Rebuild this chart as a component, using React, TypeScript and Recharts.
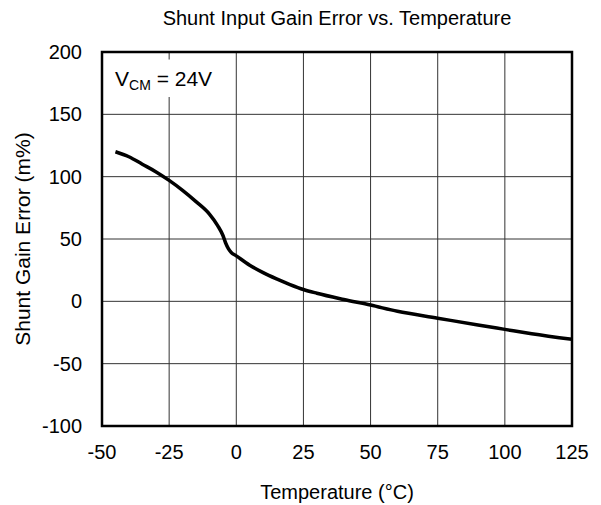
import React from "react"
import { LineChart, Line, XAxis, YAxis, CartesianGrid, ReferenceArea, Label } from "recharts"

const temperatures = [-45, -40, -35, -30, -25, -20, -15, -10, -7, -5, -4, -3, -2, 0, 5, 10, 15, 20, 25, 30, 40, 50, 60, 75, 90, 100, 110, 125]
const gainErrors = [120, 116, 110, 104, 97, 89, 80, 70, 61, 53, 47, 42.5, 39.5, 36.5, 29, 23, 18, 13.5, 9.5, 6.5, 1.5, -3, -8, -13.5, -19, -22.5, -26, -30.5]
const xTicks = [-50, -25, 0, 25, 50, 75, 100, 125]
const yTicks = [-100, -50, 0, 50, 100, 150, 200]

const chartTitle = "Shunt Input Gain Error vs. Temperature"
const xLabel = "Temperature (°C)"
const yLabel = "Shunt Gain Error (m%)"

const data = temperatures.map((t, i) => ({ temp: t, gain: gainErrors[i] }))

const FONT = "Arial, 'Liberation Sans', sans-serif"

export default function App() {
  const renderYLabel = (props: any) => {
    const vb = props.viewBox
    const cy = vb.y + vb.height / 2
    return (
      <text
        x={30}
        y={cy}
        transform={`rotate(-90, 30, ${cy})`}
        textAnchor="middle"
        fontSize={21}
        fontFamily={FONT}
        fill="#000"
      >
        {yLabel}
      </text>
    )
  }

  const renderVcm = (props: any) => {
    const vb = props.viewBox
    return (
      <text x={vb.x + 13} y={86} fontSize={21} fontFamily={FONT} fill="#000">
        V
        <tspan fontSize={14} dy={4}>CM</tspan>
        <tspan dy={-4}> = 24V</tspan>
      </text>
    )
  }

  return (
    <div style={{ position: "absolute", left: 0, top: 0, width: 601, height: 505, background: "#fff", fontFamily: FONT }}>
      <div
        style={{
          position: "absolute",
          left: 102,
          width: 470,
          top: 6,
          textAlign: "center",
          fontSize: 20,
          lineHeight: "24px",
          color: "#000",
        }}
      >
        {chartTitle}
      </div>
      <LineChart width={601} height={505} data={data} margin={{ top: 52, right: 29, bottom: 0, left: 40 }}>
        <CartesianGrid stroke="#333" strokeWidth={1} />
        <XAxis
          dataKey="temp"
          type="number"
          domain={[-50, 125]}
          ticks={xTicks}
          height={79}
          tickSize={0}
          tickMargin={19}
          axisLine={false}
          tick={{ fill: "#000", fontSize: 20, fontFamily: FONT }}
        >
          <Label value={xLabel} position="insideBottom" offset={6} fill="#000" fontSize={20} fontFamily={FONT} />
        </XAxis>
        <YAxis
          type="number"
          domain={[-100, 200]}
          ticks={yTicks}
          width={62}
          tickSize={0}
          tickMargin={20}
          axisLine={false}
          tick={{ fill: "#000", fontSize: 20, fontFamily: FONT }}
        >
          <Label content={renderYLabel} />
        </YAxis>
        <ReferenceArea x1={-50} x2={-9} y1={164} y2={194} fill="#fff" fillOpacity={1} stroke="none">
          <Label content={renderVcm} />
        </ReferenceArea>
        <Line
          type="monotone"
          dataKey="gain"
          stroke="#000"
          strokeWidth={3.5}
          dot={false}
          isAnimationActive={false}
        />
        <ReferenceArea x1={-50} x2={125} y1={-100} y2={200} fill="none" stroke="#000" strokeWidth={2.5} />
      </LineChart>
    </div>
  )
}
